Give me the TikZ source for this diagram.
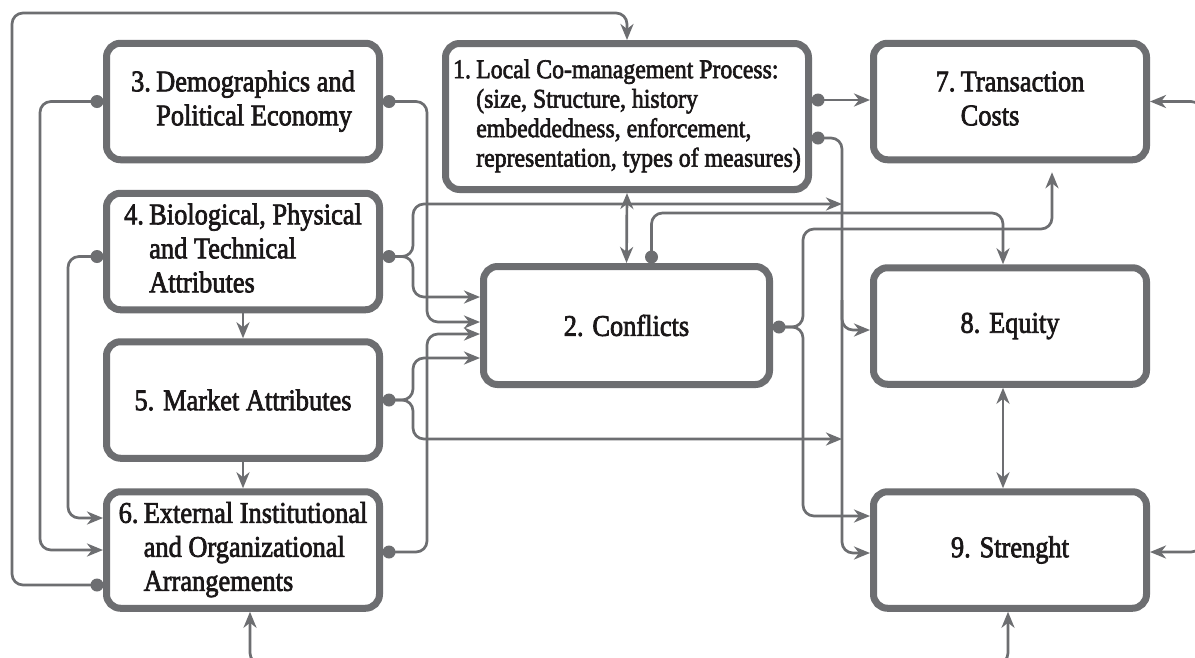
\documentclass[tikz,border=0pt]{standalone}
\usepackage{fontspec}
\usepackage{graphicx}
\setmainfont{Liberation Serif}[UprightFeatures={FakeBold=2.5}]
\usetikzlibrary{arrows.meta,calc}
\definecolor{frame}{HTML}{6D6E71}
\definecolor{ink}{HTML}{1A1718}
\newcommand\boxfont{\fontsize{30}{34}\selectfont}
\newcommand\lmpfont{\fontsize{27}{29.5}\selectfont}
% condensed setting of a label
\newcommand\cond[1]{\scalebox{0.88}[1]{#1}}
\newcommand\hanging[1]{\cond{\begin{tabular}{@{}l@{\hspace{6pt}}l@{}}#1\end{tabular}}}
\tikzset{
  box/.style={draw=frame, line width=7pt, rounded corners=14pt, fill=white,
    inner sep=0pt, text=ink, font=\boxfont, align=center,
    minimum width=273pt, minimum height=116.5pt},
  conn/.style={draw=frame, line width=2.7pt, rounded corners=11pt, line join=round},
  tip/.style={-{Stealth[length=16pt,width=13pt,inset=5pt]}},
  dtip/.style={{Stealth[length=16pt,width=13pt,inset=5pt]}-{Stealth[length=16pt,width=13pt,inset=5pt]}},
  dot/.style={fill=frame}
}
\begin{document}
\begin{tikzpicture}[x=1pt,y=-1pt]
\clip (0,0) rectangle (1195,657);
\fill[white] (0,0) rectangle (1195,657);

% boxes
\node[box, minimum width=363pt, minimum height=146pt, font=\lmpfont] (b1) at (627,116.5)
  {\hanging{1. & Local Co-management Process:\\
   & (size, Structure, history\\ & embeddedness, enforcement,\\
   & representation, types of measures)}};
\node[box, minimum width=286pt, minimum height=118pt] (b2) at (626.5,325.5) {\cond{2. Conflicts}};
\node[box] (b3) at (243,101.5)
  {\hanging{3. & Demographics and\\ & Political Economy}};
\node[box] (b4) at (243,251.5)
  {\hanging{4. & Biological, Physical\\ & and Technical\\ & Attributes}};
\node[box] (b5) at (243,400) {\cond{5. Market Attributes}};
\node[box] (b6) at (243,550)
  {\hanging{6. & External Institutional\\ & and Organizational\\ & Arrangements}};
\node[box] (b7) at (1010,101.5)
  {\hanging{7. & Transaction\\ & Costs}};
\node[box] (b8) at (1010,326) {\cond{8. Equity}};
\node[box] (b9) at (1010,550) {\cond{9. Strenght}};

% connector start points (dots on box edges)
\coordinate (d6a) at ($(b6.west)+(-6,35)$);
\coordinate (d3w) at ($(b3.west)+(-6,0)$);
\coordinate (d4w) at ($(b4.west)+(-6,5)$);
\coordinate (d3e) at ($(b3.east)+(6,0)$);
\coordinate (d4e) at ($(b4.east)+(6,5)$);
\coordinate (d5e) at ($(b5.east)+(6,0)$);
\coordinate (d6e) at ($(b6.east)+(6,2)$);
\coordinate (d1a) at ($(b1.east)+(6,-16.5)$);
\coordinate (d1b) at ($(b1.east)+(6,21.5)$);
\coordinate (d2t) at ($(b2.north)+(25,-6)$);
\coordinate (d2e) at ($(b2.east)+(6,1.5)$);
\coordinate (bus) at (842,300);

% left side feedback
\draw[conn,tip] (d6a) -| (12,13) -| (b1.north);
\draw[conn,tip] (d3w) -| (40,550) -- (b6.west);
\draw[conn,tip] (d4w) -| (68,518) -- ($(b6.west)+(0,-32)$);

% into conflicts and the outcome bus
\draw[conn,tip] (d3e) -| (427,322) -- ($(b2.west)+(0,-3.5)$);
\draw[conn,tip] (d4e) -| (413,204) -- (842,204);
\draw[conn,tip] (d4e) -| (413,297) -- ($(b2.west)+(0,-28.5)$);
\draw[conn,tip] (d5e) -| (413,358) -- ($(b2.west)+(0,32.5)$);
\draw[conn,tip] (d5e) -| (413,439) -- (842,439);
\draw[conn,tip] (d6e) -| (427,334) -- ($(b2.west)+(0,8.5)$);

% vertical chain 4 -> 5 -> 6
\draw[conn,tip] (b4.south) -- (b5.north);
\draw[conn,tip] (b5.south) -- (b6.north);
\draw[conn,tip] (272,664) -| ($(b6.south)+(7,0)$);

% process and conflicts
\draw[conn,dtip] (b1.south) -- (b2.north);
\draw[conn,tip] (d1a) -- (d1a -| b7.west);
\draw[conn,tip] (d1b) -| (842,553) -- ($(b9.west)+(0,3)$);
\draw[conn,tip] (bus) |- ($(b8.west)+(0,4)$);
\draw[conn,tip] (d2t) |- (1003,213) -- ($(b8.north)+(-7,0)$);
\draw[conn,tip,shorten >=9pt] (d2e) -| (803,229) -| ($(b7.south)+(42,0)$);
\draw[conn,tip] (d2e) -| (803,516) -- ($(b9.west)+(0,-34)$);

% outcomes
\draw[conn,dtip] ($(b8.south)+(-7,0)$) -- ($(b9.north)+(-7,0)$);
\draw[conn,tip] (1202,130) |- (b7.east);
\draw[conn,tip] (1202,525) |- ($(b9.east)+(0,2)$);
\draw[conn,tip] (988,664) -| ($(b9.south)+(-2,0)$);

% dots
\foreach \p in {d6a,d3w,d4w,d3e,d4e,d5e,d6e,d1a,d1b,d2t,d2e}
  \fill[dot] (\p) circle (6.5);
\end{tikzpicture}
\end{document}
